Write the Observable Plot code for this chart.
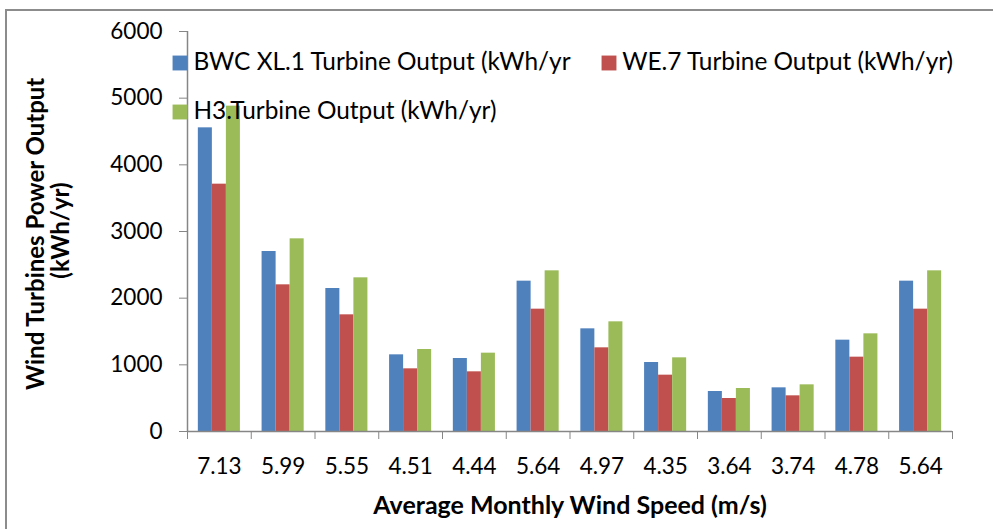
<!DOCTYPE html>
<html><head><meta charset="utf-8">
<script src="https://cdn.jsdelivr.net/npm/d3@7"></script>
<script src="https://cdn.jsdelivr.net/npm/@observablehq/plot@0.6"></script>
<style>
html,body{margin:0;padding:0;background:#fff;}
#wrap{position:relative;width:993px;height:529px;overflow:hidden;}
#border{position:absolute;left:5px;top:9px;width:1100px;height:600px;border-top:2px solid #8c8c8c;border-left:2px solid #8c8c8c;pointer-events:none;}
#wrap svg{position:absolute;left:0;top:0;}
</style></head><body><div id="wrap"><div id="border"></div></div>
<script>
const speeds = ["7.13","5.99","5.55","4.51","4.44","5.64","4.97","4.35","3.64","3.74","4.78","5.64"];
const bwc = [4555, 2700, 2145, 1150, 1095, 2255, 1540, 1035, 600, 655, 1370, 2255];
const we7 = [3710, 2200, 1750, 940, 895, 1835, 1255, 845, 495, 535, 1115, 1835];
const h3  = [4880, 2890, 2305, 1230, 1175, 2410, 1645, 1105, 645, 700, 1465, 2410];
const seriesNames = ["BWC XL.1 Turbine Output (kWh/yr", "WE.7 Turbine Output (kWh/yr)", "H3.Turbine Output (kWh/yr)"];
const seriesColors = ["#4F81BD", "#C0504D", "#9BBB59"];
const yTicks = [0, 1000, 2000, 3000, 4000, 5000, 6000];
const xTitle = "Average Monthly Wind Speed (m/s)";
const yTitle1 = "Wind Turbines Power Output";
const yTitle2 = "(kWh/yr)";

const series = [bwc, we7, h3];
const gray = "#868686";
const font = "Lato, 'Open Sans', sans-serif";

const barMarks = series.map((vals, s) =>
  Plot.rectY(vals.map((v, i) => ({i, v})), {
    x1: d => d.i + 0.17 + s * 0.22,
    x2: d => d.i + 0.17 + (s + 1) * 0.22,
    y1: 0,
    y2: "v",
    fill: seriesColors[s]
  })
);

// legend layout per series (pixel offsets from the plot's top-left corner)
const legendPos = [{dx: -7.5, dy: 31.5, tx: 6}, {dx: 421.5, dy: 31.5, tx: 434.7}, {dx: -7.5, dy: 80.5, tx: 6}];

const legendMarks = seriesNames.flatMap((name, s) => [
  Plot.dot([name], {frameAnchor: "top-left", dx: legendPos[s].dx, dy: legendPos[s].dy, symbol: "square", r: 8.4, fill: seriesColors[s], stroke: null}),
  Plot.text([name], {frameAnchor: "top-left", dx: legendPos[s].tx, dy: legendPos[s].dy - 0.5, text: d => d, textAnchor: "start", lineAnchor: "middle", fontSize: 24.4, fill: "#000"})
]);

const chart = Plot.plot({
  width: 993,
  height: 529,
  marginLeft: 187,
  marginRight: 41,
  marginTop: 31,
  marginBottom: 98,
  style: {fontFamily: font, fontSize: "22.5px", background: "transparent", color: "#000"},
  x: {type: "linear", domain: [0, 12], axis: null},
  y: {domain: [0, 6000], axis: null},
  marks: [
    ...barMarks,
    Plot.ruleY([0], {stroke: gray, strokeWidth: 1.5}),
    Plot.ruleX([0], {y1: 0, y2: 6000, stroke: gray, strokeWidth: 1.5}),
    Plot.axisY({ticks: yTicks, tickSize: 8, tickPadding: 17, stroke: gray, fill: "#000", fontSize: 22.5, label: null, tickFormat: d => String(d)}),
    Plot.axisX({ticks: d3.range(13), tickSize: 8, stroke: gray, tickFormat: () => "", label: null}),
    Plot.axisX({ticks: speeds.map((_, i) => i + 0.5), tickSize: 0, tickPadding: 27, fill: "#000", fontSize: 22.5, label: null, tickFormat: v => speeds[Math.floor(v)]}),
    Plot.text([xTitle], {frameAnchor: "bottom", dy: 74.5, text: d => d, textAnchor: "middle", fontWeight: "bold", fontSize: 25, lineAnchor: "middle", fill: "#000"}),
    Plot.text([yTitle1], {frameAnchor: "left", dx: 36 - 187, dy: 2.4, rotate: -90, text: d => d, textAnchor: "middle", fontWeight: "bold", fontSize: 24, lineAnchor: "middle", fill: "#000"}),
    Plot.text([yTitle2], {frameAnchor: "left", dx: 61 - 187, dy: -1, rotate: -90, text: d => d, textAnchor: "middle", fontWeight: "bold", fontSize: 24, lineAnchor: "middle", fill: "#000"}),
    ...legendMarks
  ]
});
document.getElementById("wrap").appendChild(chart);
</script>
</body></html>
